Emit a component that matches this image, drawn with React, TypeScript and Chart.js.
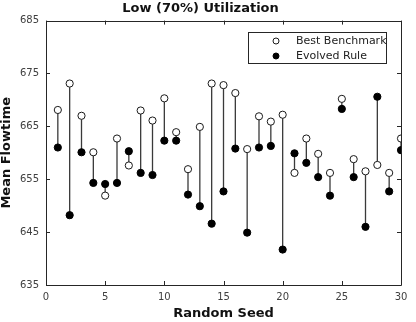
import React, { useEffect, useRef } from "react";
import { Chart, registerables } from "chart.js";

Chart.register(...registerables);

// Mean flowtime per random seed under low (70%) utilization
const seeds = [1, 2, 3, 4, 5, 6, 7, 8, 9, 10, 11, 12, 13, 14, 15, 16, 17, 18, 19, 20, 21, 22, 23, 24, 25, 26, 27, 28, 29, 30];
const benchmark = [668.1, 673.1, 667.0, 660.1, 651.9, 662.7, 657.6, 668.0, 666.1, 670.3, 663.9, 656.9, 664.9, 673.1, 672.8, 671.3, 660.7, 666.9, 665.9, 667.2, 656.2, 662.7, 659.8, 656.2, 670.2, 658.8, 656.5, 657.7, 656.2, 662.7];
const evolved = [661.0, 648.2, 660.1, 654.3, 654.1, 654.3, 660.3, 656.2, 655.8, 662.3, 662.3, 652.1, 649.9, 646.6, 652.7, 660.8, 644.9, 661.0, 661.3, 641.7, 659.9, 658.1, 655.4, 651.9, 668.3, 655.4, 646.0, 670.6, 652.7, 660.5];
const xTicks = [0, 5, 10, 15, 20, 25, 30];
const yTicks = [635, 645, 655, 665, 675, 685];

const FONT = "'DejaVu Sans', sans-serif";
const AXIS_COLOR = "#262626";

// Vertical stems joining each seed's benchmark and evolved values
const stemsPlugin = {
  id: "stems",
  beforeDatasetsDraw(chart: any) {
    const { ctx, scales } = chart;
    const xs = scales.x;
    const ys = scales.y;
    ctx.save();
    ctx.strokeStyle = "#3a3a3a";
    ctx.lineWidth = 1.3;
    seeds.forEach((s, i) => {
      const px = xs.getPixelForValue(s);
      ctx.beginPath();
      ctx.moveTo(px, ys.getPixelForValue(benchmark[i]));
      ctx.lineTo(px, ys.getPixelForValue(evolved[i]));
      ctx.stroke();
    });
    ctx.restore();
  },
};

// Boxed axes with inward tick marks on all four sides
const boxPlugin = {
  id: "box",
  afterDatasetsDraw(chart: any) {
    const { ctx, chartArea, scales } = chart;
    const { left, right, top, bottom } = chartArea;
    const len = 4;
    ctx.save();
    ctx.strokeStyle = AXIS_COLOR;
    ctx.lineWidth = 1;
    ctx.beginPath();
    ctx.rect(Math.round(left) + 0.5, Math.round(top) + 0.5, Math.round(right - left), Math.round(bottom - top));
    ctx.stroke();
    ctx.beginPath();
    xTicks.forEach((v) => {
      const px = Math.round(scales.x.getPixelForValue(v)) + 0.5;
      ctx.moveTo(px, bottom);
      ctx.lineTo(px, bottom - len);
      ctx.moveTo(px, top);
      ctx.lineTo(px, top + len);
    });
    yTicks.forEach((v) => {
      const py = Math.round(scales.y.getPixelForValue(v)) + 0.5;
      ctx.moveTo(left, py);
      ctx.lineTo(left + len, py);
      ctx.moveTo(right, py);
      ctx.lineTo(right - len, py);
    });
    ctx.stroke();
    ctx.restore();
  },
};

// Boxed legend in the upper right of the plot
const legendPlugin = {
  id: "boxLegend",
  afterDraw(chart: any) {
    const { ctx } = chart;
    const bx = 248.5;
    const by = 32.5;
    const bw = 138;
    const bh = 31;
    ctx.save();
    ctx.fillStyle = "#ffffff";
    ctx.strokeStyle = AXIS_COLOR;
    ctx.lineWidth = 1;
    ctx.fillRect(bx, by, bw, bh);
    ctx.strokeRect(bx, by, bw, bh);
    ctx.font = `11px ${FONT}`;
    ctx.textBaseline = "middle";
    ctx.textAlign = "left";
    chart.data.datasets.forEach((ds: any, i: number) => {
      const cy = by + 8.5 + i * 15;
      ctx.beginPath();
      ctx.arc(276, cy, 3, 0, Math.PI * 2);
      ctx.fillStyle = ds.backgroundColor;
      ctx.fill();
      ctx.strokeStyle = ds.borderColor;
      ctx.lineWidth = 1;
      ctx.stroke();
      ctx.fillStyle = "#222222";
      ctx.fillText(ds.label, 296, cy + 0.5);
    });
    ctx.restore();
  },
};

export default function App() {
  const canvasRef = useRef<HTMLCanvasElement | null>(null);

  useEffect(() => {
    document.body.style.margin = "0";
    const canvas = canvasRef.current;
    if (!canvas) return;
    const chart = new Chart(canvas, {
      type: "scatter",
      data: {
        datasets: [
          {
            label: "Best Benchmark",
            data: seeds.map((s, i) => ({ x: s, y: benchmark[i] })),
            backgroundColor: "#ffffff",
            borderColor: "#1a1a1a",
            borderWidth: 1,
            pointRadius: 3.6,
            pointHoverRadius: 3.6,
          },
          {
            label: "Evolved Rule",
            data: seeds.map((s, i) => ({ x: s, y: evolved[i] })),
            backgroundColor: "#000000",
            borderColor: "#000000",
            borderWidth: 1,
            pointRadius: 3.6,
            pointHoverRadius: 3.6,
          },
        ],
      },
      options: {
        responsive: false,
        animation: false,
        devicePixelRatio: 1,
        layout: { padding: { top: 0, right: 15, bottom: 0, left: 0 } },
        plugins: {
          legend: { display: false },
          tooltip: { enabled: false },
          title: {
            display: true,
            text: "Low (70%) Utilization",
            color: "#111111",
            font: { family: FONT, size: 13, weight: "bold", lineHeight: 1.2 },
            padding: { top: 1, bottom: 4 },
          },
        },
        scales: {
          x: {
            type: "linear",
            min: 0,
            max: 30,
            afterBuildTicks: (scale: any) => {
              scale.ticks = xTicks.map((v) => ({ value: v }));
            },
            afterFit: (scale: any) => {
              scale.height = 37;
            },
            grid: { display: false, drawTicks: false },
            border: { display: false },
            ticks: {
              color: "#404040",
              font: { family: FONT, size: 10 },
              padding: 6,
              maxRotation: 0,
            },
            title: {
              display: true,
              text: "Random Seed",
              color: "#111111",
              font: { family: FONT, size: 13, weight: "bold", lineHeight: 1.2 },
              padding: { top: 0, bottom: 1 },
            },
          },
          y: {
            type: "linear",
            min: 635,
            max: 685,
            afterBuildTicks: (scale: any) => {
              scale.ticks = yTicks.map((v) => ({ value: v }));
            },
            afterFit: (scale: any) => {
              scale.width = 46;
            },
            grid: { display: false, drawTicks: false },
            border: { display: false },
            ticks: {
              color: "#404040",
              font: { family: FONT, size: 10 },
              padding: 7,
            },
            title: {
              display: true,
              text: "Mean Flowtime",
              color: "#111111",
              font: { family: FONT, size: 13, weight: "bold", lineHeight: 1.0 },
              padding: { top: 0, bottom: 0 },
            },
          },
        },
      },
      plugins: [stemsPlugin, boxPlugin, legendPlugin],
    });
    return () => chart.destroy();
  }, []);

  return (
    <div style={{ position: "absolute", left: 0, top: 0, width: 416, height: 322, background: "#ffffff" }}>
      <canvas ref={canvasRef} width={416} height={322} style={{ width: 416, height: 322 }} />
    </div>
  );
}
